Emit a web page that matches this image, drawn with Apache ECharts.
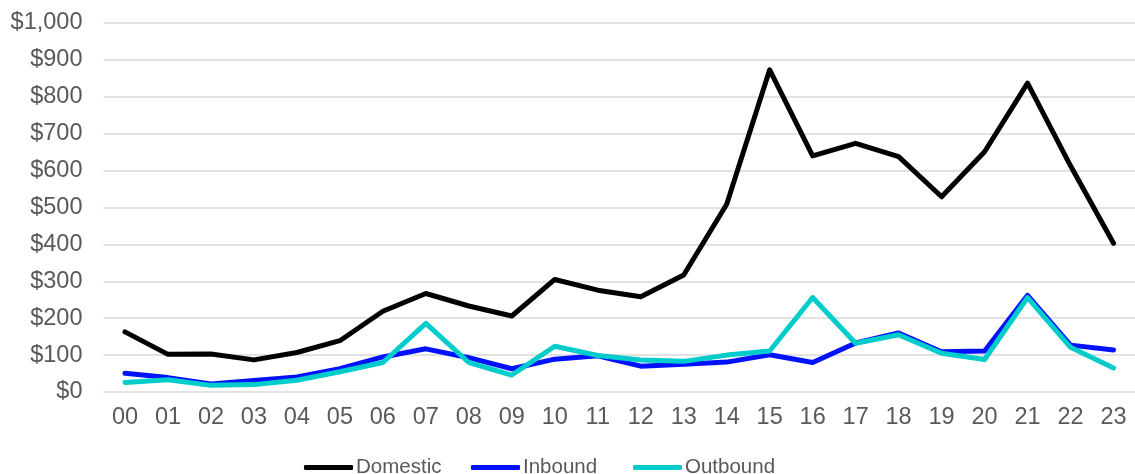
<!DOCTYPE html>
<html><head><meta charset="utf-8">
<script src="https://cdn.jsdelivr.net/npm/echarts@6/dist/echarts.min.js"></script>
<style>html,body{margin:0;padding:0;background:#fff}#c{width:1135px;height:474px}</style>
</head><body><div id="c"></div>
<script>
const hours = ['00','01','02','03','04','05','06','07','08','09','10','11','12','13','14','15','16','17','18','19','20','21','22','23'];
const domestic = [163,102,103,87,107,139,219,267,233,206,305,276,258,317,509,873,640,674,638,529,651,837,613,403];
const inbound  = [51,39,22,31,41,63,95,117,93,63,89,98,70,75,81,101,80,133,160,109,111,262,127,114];
const outbound = [26,33,18,20,32,55,80,186,80,46,124,99,87,83,100,111,256,132,155,105,88,256,121,65];
const yTicks = {min:0, max:1000, interval:100};
const seriesNames = ['Domestic','Inbound','Outbound'];

const chart = echarts.init(document.getElementById('c'));
const font = 'Liberation Sans, Arial, sans-serif';
const legendLefts = [299, 466, 628];
const legendBase = {
  top:452, icon:'roundRect', itemWidth:49, itemHeight:5,
  textStyle:{fontFamily:font, fontSize:20.5, color:'#595959', padding:[0,0,0,-2]}
};
chart.setOption({
  animation:false,
  grid:{left:103.5, top:23, width:1034, height:369, containLabel:false},
  legend: seriesNames.map((n,i)=>Object.assign({}, legendBase, {left:legendLefts[i], data:[n]})),
  xAxis:{
    type:'category', data:hours, boundaryGap:true,
    axisLine:{show:false}, axisTick:{show:false},
    axisLabel:{fontFamily:font, fontSize:23.5, color:'#595959', margin:14}
  },
  yAxis:{
    type:'value', min:yTicks.min, max:yTicks.max, interval:yTicks.interval,
    axisLine:{show:false}, axisTick:{show:false},
    splitLine:{lineStyle:{color:'#d9d9d9', width:1.5}},
    axisLabel:{fontFamily:font, fontSize:23.5, color:'#595959', margin:21,
      formatter:v=>'$'+v.toLocaleString('en-US')}
  },
  series:[
    {name:'Domestic', type:'line', data:domestic, symbol:'none', z:3,
     itemStyle:{color:'#000000'}, lineStyle:{color:'#000000', width:5, cap:'round', join:'round'}},
    {name:'Inbound', type:'line', data:inbound, symbol:'none', z:2,
     itemStyle:{color:'#0011ff'}, lineStyle:{color:'#0011ff', width:5, cap:'round', join:'round'}},
    {name:'Outbound', type:'line', data:outbound, symbol:'none', z:4,
     itemStyle:{color:'#00cccc'}, lineStyle:{color:'#00cccc', width:5, cap:'round', join:'round'}}
  ]
});
</script></body></html>
